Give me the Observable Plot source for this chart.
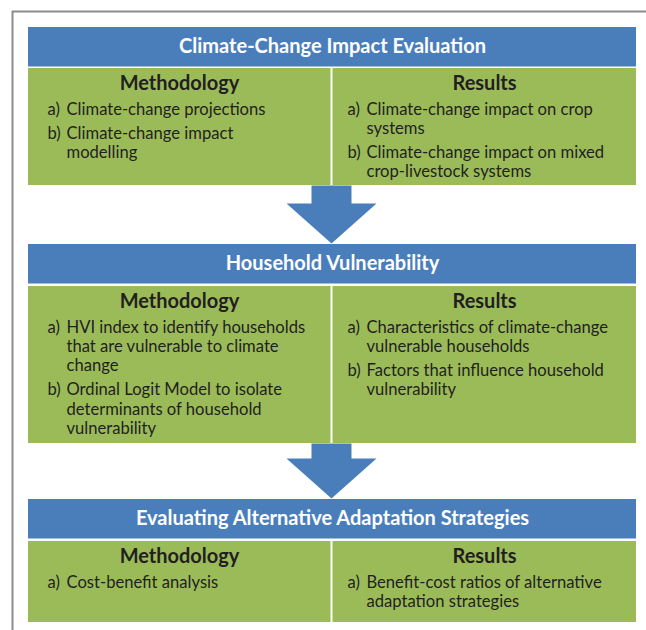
<!DOCTYPE html>
<html>
<head>
<meta charset="utf-8">
<script src="https://cdn.jsdelivr.net/npm/d3@7"></script>
<script src="https://cdn.jsdelivr.net/npm/@observablehq/plot@0.6"></script>
<style>
  html, body { margin: 0; padding: 0; background: #ffffff; }
  #chart svg { display: block; }
</style>
</head>
<body>
<div id="chart"></div>
<script>
// ---- Content ----
const sections = [
  "Climate-Change Impact Evaluation",
  "Household Vulnerability",
  "Evaluating Alternative Adaptation Strategies"
];
const columnHeads = ["Methodology", "Results"];
const itemLabels = ["a)", "b)"];
const methodology = [
  ["Climate-change projections", "Climate-change impact\nmodelling"],
  ["HVI index to identify households\nthat are vulnerable to climate\nchange", "Ordinal Logit Model to isolate\ndeterminants of household\nvulnerability"],
  ["Cost-benefit analysis"]
];
const results = [
  ["Climate-change impact on crop\nsystems", "Climate-change impact on mixed\ncrop-livestock systems"],
  ["Characteristics of climate-change\nvulnerable households", "Factors that influence household\nvulnerability"],
  ["Benefit-cost ratios of alternative\nadaptation strategies"]
];

// ---- Layout (positions/styles, kept separate from content) ----
const W = 646, H = 630;
const L = {
  left: 28, right: 636, mid: 331,
  headerTops: [27, 244, 499], headerH: 39.5,
  greenTops: [68, 286, 541], greenBottoms: [185, 443, 622],
  lineH: 19.1, itemGap: 24.4,
  cols: [{labelX: 47, textX: 66, headX: 179}, {labelX: 347, textX: 366, headX: 484}]
};
const blue = "#4a7ebb", green = "#9bbb59", ink = "#231f20";
const font = "Lato, 'Open Sans', sans-serif";

// Build mark data
const headers = sections.map((s, i) => ({
  title: s, y1: L.headerTops[i], y2: L.headerTops[i] + L.headerH, cy: L.headerTops[i] + 19.5
}));
const greens = sections.map((s, i) => ({y1: L.greenTops[i], y2: L.greenBottoms[i]}));
const heads = [];
const labels = [];
const lines = [];
[methodology, results].forEach((col, c) => {
  col.forEach((items, s) => {
    const hy = L.greenTops[s] + 15.5;
    heads.push({text: columnHeads[c], x: L.cols[c].headX, y: hy});
    let y = hy + 25.5;
    items.forEach((item, k) => {
      labels.push({text: itemLabels[k], x: L.cols[c].labelX, y});
      item.split("\n").forEach((ln, j) => {
        lines.push({text: ln, x: L.cols[c].textX, y});
        y += L.lineH;
      });
      y += L.itemGap - L.lineH;
    });
  });
});
const arrows = [];
for (let i = 0; i < sections.length - 1; i++) {
  const top = L.greenBottoms[i], next = L.headerTops[i + 1];
  const cx = L.mid, hTop = next - 41, tip = next - 1;
  [[cx - 20, top], [cx + 20, top], [cx + 20, hTop], [cx + 45, hTop], [cx, tip],
   [cx - 45, hTop], [cx - 20, hTop]].forEach(([x, y]) => arrows.push({id: i, x, y}));
}

const chart = Plot.plot({
  width: W, height: H,
  margin: 0,
  x: {domain: [0, W], range: [0, W], axis: null},
  y: {domain: [0, H], range: [0, H], axis: null},
  style: {fontFamily: font, background: "#ffffff"},
  marks: [
    // outer frame (top and left edges)
    Plot.ruleY([11], {x1: 12, x2: W, stroke: "#8c8c8c", strokeWidth: 2}),
    Plot.ruleX([12], {y1: 11, y2: H, stroke: "#8c8c8c", strokeWidth: 2}),
    // headers
    Plot.rect(headers, {x1: L.left, x2: L.right, y1: "y1", y2: "y2", fill: blue}),
    Plot.rect(greens, {x1: L.left, x2: L.right, y1: "y1", y2: "y2", fill: green}),
    Plot.ruleX(greens, {x: L.mid, y1: "y1", y2: "y2", stroke: "#ffffff", strokeWidth: 2}),
    Plot.line(arrows, {x: "x", y: "y", z: "id", fill: blue, stroke: "none", curve: "linear-closed"}),
    Plot.text(headers, {x: (L.left + L.right) / 2, y: "cy", text: "title", fill: "#ffffff",
      fontSize: 20, fontWeight: "bold"}),
    Plot.text(heads, {x: "x", y: "y", text: "text", fill: ink, fontSize: 20, fontWeight: "bold"}),
    Plot.text(labels, {x: "x", y: "y", text: "text", fill: ink, fontSize: 16.6, textAnchor: "start"}),
    Plot.text(lines, {x: "x", y: "y", text: "text", fill: ink, fontSize: 16.6, textAnchor: "start"})
  ]
});
document.getElementById("chart").appendChild(chart);
</script>
</body>
</html>
